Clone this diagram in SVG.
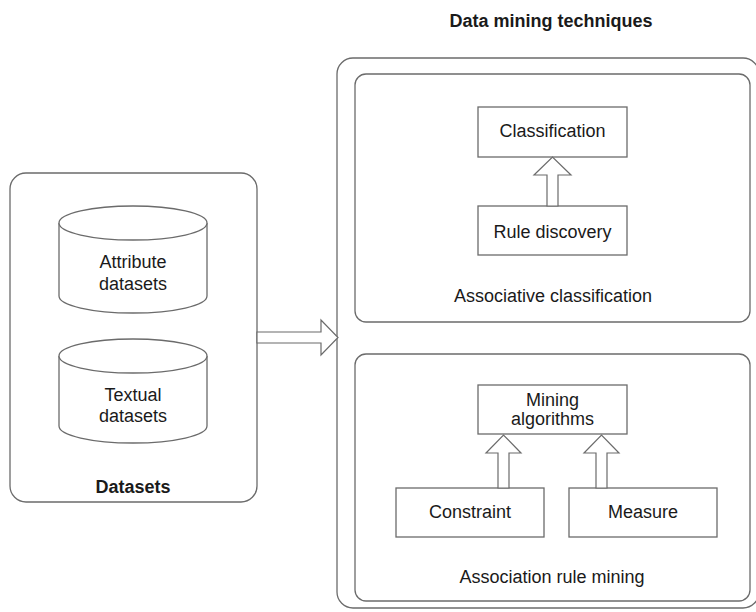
<svg xmlns="http://www.w3.org/2000/svg" width="756" height="612" viewBox="0 0 756 612">
  <style>
    .frame { fill: none; stroke: #6b6b6b; stroke-width: 1.3; }
    .box { fill: #ffffff; stroke: #6b6b6b; stroke-width: 1.3; }
    .arrow { fill: #ffffff; stroke: #6b6b6b; stroke-width: 1.2; stroke-linejoin: miter; }
    text { font-family: "Liberation Sans", Arial, sans-serif; font-size: 18px; fill: #1a1a1a; text-anchor: middle; }
    .bold { font-weight: bold; }
  </style>
  <rect width="756" height="612" fill="#ffffff"/>

  <!-- Datasets container -->
  <g id="datasets">
    <rect class="frame" x="10" y="173" width="247" height="329" rx="16" ry="16"/>
    <text class="bold" x="133" y="493">Datasets</text>
  </g>

  <!-- Attribute datasets cylinder -->
  <g id="attribute-datasets">
    <path class="box" d="M59,223 L59,296 A74,17 0 0 0 207,296 L207,223"/>
    <ellipse class="box" cx="133" cy="223" rx="74" ry="17"/>
    <text x="133" y="268">Attribute</text>
    <text x="133" y="290">datasets</text>
  </g>

  <!-- Textual datasets cylinder -->
  <g id="textual-datasets">
    <path class="box" d="M59,356 L59,426 A74,17 0 0 0 207,426 L207,356"/>
    <ellipse class="box" cx="133" cy="356" rx="74" ry="17"/>
    <text x="133" y="401">Textual</text>
    <text x="133" y="422">datasets</text>
  </g>

  <!-- Data mining techniques container -->
  <g id="techniques">
    <rect class="frame" x="337" y="58" width="422" height="550" rx="16" ry="16"/>
    <text class="bold" x="551" y="27">Data mining techniques</text>
  </g>

  <!-- Associative classification panel -->
  <g id="associative-classification">
    <rect class="frame" x="355" y="74" width="395" height="248" rx="11" ry="11"/>
    <text x="553" y="302">Associative classification</text>
  </g>

  <g id="classification">
    <rect class="box" x="478" y="107" width="149" height="50"/>
    <text x="552.5" y="137">Classification</text>
  </g>

  <g id="rule-discovery">
    <rect class="box" x="478" y="206" width="149" height="49"/>
    <text x="552.5" y="238">Rule discovery</text>
  </g>

  <!-- Association rule mining panel -->
  <g id="association-rule-mining">
    <rect class="frame" x="355" y="354" width="395" height="247" rx="11" ry="11"/>
    <text x="552" y="583">Association rule mining</text>
  </g>

  <g id="mining-algorithms">
    <rect class="box" x="478" y="385" width="149" height="49"/>
    <text x="552.5" y="406">Mining</text>
    <text x="552.5" y="425">algorithms</text>
  </g>

  <g id="constraint">
    <rect class="box" x="396" y="488" width="148" height="49"/>
    <text x="470" y="518">Constraint</text>
  </g>

  <g id="measure">
    <rect class="box" x="569" y="488" width="148" height="49"/>
    <text x="643" y="518">Measure</text>
  </g>

  <!-- Block arrows between elements -->
  <g id="connectors">
    <!-- Datasets to techniques -->
    <polygon class="arrow" points="257,332 321,332 321,320 338,337.5 321,355 321,343 257,343"/>
    <!-- Rule discovery to classification -->
    <polygon class="arrow" points="547,206 547,175 534,175 552.5,157 571,175 558,175 558,206"/>
    <!-- Constraint to mining algorithms -->
    <polygon class="arrow" points="498,488 498,453 486,453 503.5,435 521,453 509,453 509,488"/>
    <!-- Measure to mining algorithms -->
    <polygon class="arrow" points="596,488 596,453 584,453 601.5,435 619,453 607,453 607,488"/>
  </g>
</svg>
